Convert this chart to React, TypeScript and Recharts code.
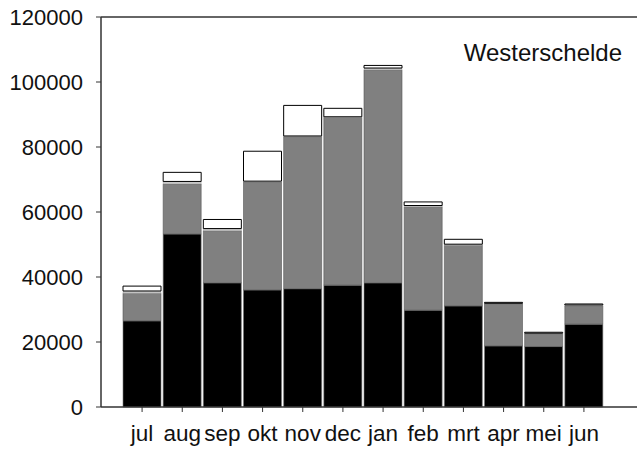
import React from 'react';
import { BarChart, Bar, XAxis, YAxis, ReferenceLine } from 'recharts';

const months = ['jul', 'aug', 'sep', 'okt', 'nov', 'dec', 'jan', 'feb', 'mrt', 'apr', 'mei', 'jun'];
const blackPart = [26500, 53200, 38200, 36000, 36400, 37500, 38200, 29800, 31100, 18800, 18600, 25500];
const grayPart = [8500, 15400, 16000, 33200, 46800, 51600, 65500, 31800, 18700, 12900, 3900, 5600];
const lightPart = [700, 800, 700, 300, 200, 200, 600, 400, 300, 200, 200, 300];
const whitePart = [1500, 2800, 2800, 9200, 9400, 2600, 800, 1100, 1500, 300, 300, 300];
const yTicks = [0, 20000, 40000, 60000, 80000, 100000, 120000];
const title = 'Westerschelde';

const data = months.map((m, i) => ({
  month: m,
  black: blackPart[i],
  gray: grayPart[i],
  light: lightPart[i],
  white: whitePart[i],
}));

const FONT = '"Liberation Sans", Arial, sans-serif';
const AXIS = '#333';

export default function App() {
  return (
    <div style={{ position: 'absolute', left: 0, top: 0, width: 637, height: 452, background: '#fff' }}>
      <BarChart
        width={637}
        height={452}
        data={data}
        margin={{ top: 17, right: 0, left: 0, bottom: 0 }}
        barCategoryGap={1}
      >
        <XAxis
          dataKey="month"
          height={45}
          padding={{ left: 21, right: 33 }}
          axisLine={{ stroke: AXIS, strokeWidth: 1.5 }}
          tickLine={{ stroke: AXIS }}
          tickSize={5}
          tickMargin={13}
          interval={0}
          tick={{ fill: '#111', fontSize: 22.5, fontFamily: FONT }}
        />
        <YAxis
          width={101}
          domain={[0, 120000]}
          ticks={yTicks}
          interval={0}
          axisLine={{ stroke: AXIS, strokeWidth: 1.5 }}
          tickLine={{ stroke: AXIS }}
          tickSize={5}
          tickMargin={13}
          tick={{ fill: '#111', fontSize: 22, fontFamily: FONT }}
        />
        <ReferenceLine y={120000} stroke={AXIS} strokeWidth={1.5} />
        <Bar dataKey="black" stackId="a" fill="#000" stroke="#777" strokeWidth={0.6} isAnimationActive={false} />
        <Bar dataKey="gray" stackId="a" fill="#808080" stroke="#555" strokeWidth={0.6} isAnimationActive={false} />
        <Bar dataKey="light" stackId="a" fill="#c8c8c8" stroke="#999" strokeWidth={0.4} isAnimationActive={false} />
        <Bar dataKey="white" stackId="a" fill="#fff" stroke="#000" strokeWidth={1} isAnimationActive={false} />
      </BarChart>
      <div
        style={{
          position: 'absolute',
          right: 15,
          top: 41,
          fontFamily: FONT,
          fontSize: 24,
          color: '#111',
          lineHeight: '24px',
        }}
      >
        {title}
      </div>
    </div>
  );
}
